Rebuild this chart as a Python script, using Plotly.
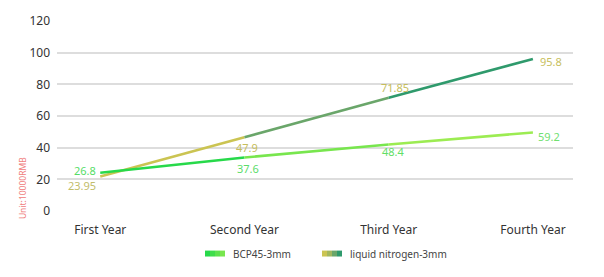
import plotly.graph_objects as go

categories = ["First Year", "Second Year", "Third Year", "Fourth Year"]
y_ticks = [0, 20, 40, 60, 80, 100, 120]

# labelled values
bcp_labels = [26.8, 37.6, 48.4, 59.2]
ln_labels = [23.95, 47.9, 71.85, 95.8]
# line heights as drawn in the picture
bcp_line = [24.2, 33.8, 42.0, 49.6]
ln_line = [21.8, 46.6, 71.5, 96.0]

series_names = ["BCP45-3mm", "liquid nitrogen-3mm"]
bcp_colors = ["#27d94a", "#4fe04c", "#78e64e", "#9cec52"]
ln_colors = ["#cbc452", "#a3b75e", "#6aa66a", "#2f9a6c"]

x = list(range(len(categories)))
fig = go.Figure()

def add_gradient_line(vals, colors):
    for i in range(len(vals) - 1):
        fig.add_trace(go.Scatter(
            x=x[i:i + 2], y=vals[i:i + 2], mode="lines",
            line=dict(color=colors[i + 1] if i > 0 else colors[i], width=2.6),
            showlegend=False, hoverinfo="skip"))

add_gradient_line(ln_line, ln_colors)
add_gradient_line(bcp_line, bcp_colors)

font = "Noto Sans, Roboto, DejaVu Sans, sans-serif"
# label placements (xanchor, xshift, yshift) relative to line points
bcp_pos = [("right", -3, 2), ("center", 4, -11), ("center", 5, -7), ("left", 4, -4)]
ln_pos = [("right", -3, -9), ("center", 3, -10.5), ("center", 6, 10.5), ("left", 6, -2)]

for vals, labels, pos, cols in [(bcp_line, bcp_labels, bcp_pos, ["#55dd66", "#5add6a", "#62de66", "#70e070"]),
                                (ln_line, ln_labels, ln_pos, ["#c2bd6a", "#c6bd5c", "#c6bd5c", "#c8c060"])]:
    for i, (v, lab) in enumerate(zip(vals, labels)):
        xa, xs, ys = pos[i]
        fig.add_annotation(x=x[i], y=v, text=str(lab), showarrow=False,
                           xanchor=xa, yanchor="middle", xshift=xs, yshift=ys,
                           borderpad=0,
                           font=dict(size=11, color=cols[i], family=font))

# y-axis unit title
fig.add_annotation(xref="paper", yref="paper", x=-0.068, y=0.12, text="Unit:10000RMB",
                   textangle=-90, showarrow=False, xanchor="center", yanchor="middle",
                   font=dict(size=8.5, color="#f08080", family=font))

# custom legend
def swatch(x0, cols, label):
    n = len(cols)
    w = 20 / n
    for k, c in enumerate(cols):
        fig.add_shape(type="rect", xref="paper", yref="paper",
                      x0=(x0 + k * w - 57) / 516, x1=(x0 + (k + 1) * w - 57) / 516,
                      y0=(211 - 257) / 192, y1=(211 - 251) / 192,
                      fillcolor=c, line=dict(width=0), layer="above")
    fig.add_annotation(xref="paper", yref="paper", x=(x0 + 26 - 57) / 516, y=(211 - 254) / 192,
                       text=label, showarrow=False, xanchor="left", yanchor="middle",
                       font=dict(size=10, color="#444", family=font))

swatch(205, ["#27d94a", "#3fdd4b", "#5ee24d", "#78e64e"], series_names[0])
swatch(322, ["#cbc452", "#a3b75e", "#6aa66a", "#2f9a6c"], series_names[1])

fig.update_layout(
    width=604, height=277,
    margin=dict(l=57, r=31, t=19, b=66),
    plot_bgcolor="white", paper_bgcolor="white",
    showlegend=False,
    font=dict(family=font, color="#333"),
    xaxis=dict(range=[-0.3, 3.278], tickmode="array", tickvals=x, ticktext=categories,
               showgrid=False, zeroline=False, showline=False, ticks="",
               tickfont=dict(size=12, color="#333"), ticklabelstandoff=10),
    yaxis=dict(range=[0, 120], tickmode="array", tickvals=y_ticks,
               showgrid=True, gridcolor="#dddddd", gridwidth=1.5, zeroline=False,
               showline=False, ticks="", tickfont=dict(size=12, color="#333"),
               ticklabelstandoff=6),
)

fig.write_html("out.html")
